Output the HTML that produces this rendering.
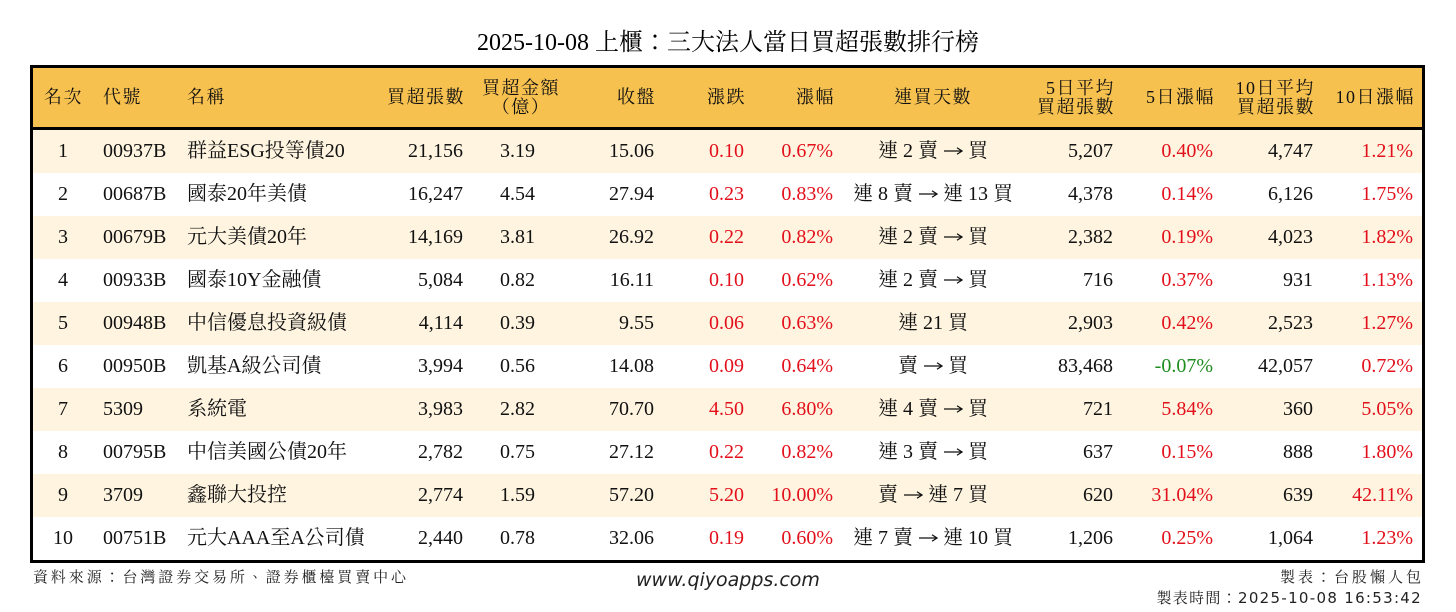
<!DOCTYPE html>
<html><head><meta charset="utf-8">
<style>
*{margin:0;padding:0;box-sizing:border-box}
body{width:1456px;height:612px;background:#fff;position:relative;overflow:hidden;font-family:"Liberation Serif","Noto Serif CJK TC","Noto Serif CJK SC",serif;color:#111}
.title{position:absolute;left:0;width:1456px;top:29px;text-align:center;font-size:24px;line-height:28px;color:#000}
.hdrbg{position:absolute;left:33px;top:68px;width:1389px;height:59px;background:#F6C14F}
.hline{position:absolute;left:33px;top:127px;width:1389px;height:3px;background:#000}
.box{position:absolute;left:30px;top:65px;width:1395px;height:498px;border:3px solid #000;z-index:5}
.row{position:absolute;left:0;width:1456px;height:43px}
.bgc{position:absolute;left:33px;top:0;width:1389px;height:43px;background:#FEF4E0}
.c{position:absolute;top:0;line-height:43px;font-size:20px;white-space:nowrap}
.ar{display:inline-block;width:20px;height:10px;margin:0;vertical-align:1px}
.h{position:absolute;font-size:18px;letter-spacing:1.5px;white-space:nowrap;color:#111}
.hs{top:68px;line-height:59px}
.hd{top:79px;line-height:19px}
.red{color:#E3101B}
.grn{color:#1E8C1E}
.rk{left:23px;width:80px;text-align:center}
.cd{left:103px}
.nm{left:187px}
.r1{right:993px}
.r2{right:921px}
.r3{right:802px}
.r4{right:712px}
.r5{right:623px}
.st{left:813px;width:240px;text-align:center}
.r6{right:343px}
.r7{right:243px}
.r8{right:143px}
.r9{right:43px}
.foot{position:absolute;font-size:15px;white-space:nowrap;font-family:"DejaVu Sans","Noto Serif CJK TC","Noto Serif CJK SC",sans-serif;color:#222}
.web{position:absolute;left:636px;top:568px;font-size:19px;line-height:24px;font-family:"DejaVu Sans",sans-serif;font-style:italic;color:#222}
</style></head><body>
<svg width="0" height="0" style="position:absolute"><defs><symbol id="arw" viewBox="0 0 20 10"><path d="M1 5H18.5M14 1.8L19 5L14 8.2" fill="none" stroke="#111" stroke-width="1.2"/></symbol></defs></svg>
<div class="title">2025-10-08 上櫃：三大法人當日買超張數排行榜</div>

<div class="hdrbg"></div>
<div class="hline"></div>

<div class="h hs" style="left:44px">名次</div>
<div class="h hs" style="left:103px">代號</div>
<div class="h hs" style="left:187px">名稱</div>
<div class="h hs" style="right:991px">買超張數</div>
<div class="h hd" style="left:461px;width:120px;text-align:center">買超金額<br>（億）</div>
<div class="h hs" style="right:800px">收盤</div>
<div class="h hs" style="right:710px">漲跌</div>
<div class="h hs" style="right:621px">漲幅</div>
<div class="h hs" style="left:813px;width:240px;text-align:center">連買天數</div>
<div class="h hd" style="right:341px;text-align:right">5日平均<br>買超張數</div>
<div class="h hs" style="right:241px">5日漲幅</div>
<div class="h hd" style="right:141px;text-align:right">10日平均<br>買超張數</div>
<div class="h hs" style="right:41px">10日漲幅</div>

<div class="row" style="top:130px"><div class="bgc"></div>
<span class="c rk">1</span><span class="c cd">00937B</span><span class="c nm">群益ESG投等債20</span><span class="c r1">21,156</span><span class="c r2">3.19</span><span class="c r3">15.06</span><span class="c r4 red">0.10</span><span class="c r5 red">0.67%</span><span class="c st">連 2 賣 <svg class="ar"><use href="#arw"/></svg> 買</span><span class="c r6">5,207</span><span class="c r7 red">0.40%</span><span class="c r8">4,747</span><span class="c r9 red">1.21%</span></div>

<div class="row" style="top:173px">
<span class="c rk">2</span><span class="c cd">00687B</span><span class="c nm">國泰20年美債</span><span class="c r1">16,247</span><span class="c r2">4.54</span><span class="c r3">27.94</span><span class="c r4 red">0.23</span><span class="c r5 red">0.83%</span><span class="c st">連 8 賣 <svg class="ar"><use href="#arw"/></svg> 連 13 買</span><span class="c r6">4,378</span><span class="c r7 red">0.14%</span><span class="c r8">6,126</span><span class="c r9 red">1.75%</span></div>

<div class="row" style="top:216px"><div class="bgc"></div>
<span class="c rk">3</span><span class="c cd">00679B</span><span class="c nm">元大美債20年</span><span class="c r1">14,169</span><span class="c r2">3.81</span><span class="c r3">26.92</span><span class="c r4 red">0.22</span><span class="c r5 red">0.82%</span><span class="c st">連 2 賣 <svg class="ar"><use href="#arw"/></svg> 買</span><span class="c r6">2,382</span><span class="c r7 red">0.19%</span><span class="c r8">4,023</span><span class="c r9 red">1.82%</span></div>

<div class="row" style="top:259px">
<span class="c rk">4</span><span class="c cd">00933B</span><span class="c nm">國泰10Y金融債</span><span class="c r1">5,084</span><span class="c r2">0.82</span><span class="c r3">16.11</span><span class="c r4 red">0.10</span><span class="c r5 red">0.62%</span><span class="c st">連 2 賣 <svg class="ar"><use href="#arw"/></svg> 買</span><span class="c r6">716</span><span class="c r7 red">0.37%</span><span class="c r8">931</span><span class="c r9 red">1.13%</span></div>

<div class="row" style="top:302px"><div class="bgc"></div>
<span class="c rk">5</span><span class="c cd">00948B</span><span class="c nm">中信優息投資級債</span><span class="c r1">4,114</span><span class="c r2">0.39</span><span class="c r3">9.55</span><span class="c r4 red">0.06</span><span class="c r5 red">0.63%</span><span class="c st">連 21 買</span><span class="c r6">2,903</span><span class="c r7 red">0.42%</span><span class="c r8">2,523</span><span class="c r9 red">1.27%</span></div>

<div class="row" style="top:345px">
<span class="c rk">6</span><span class="c cd">00950B</span><span class="c nm">凱基A級公司債</span><span class="c r1">3,994</span><span class="c r2">0.56</span><span class="c r3">14.08</span><span class="c r4 red">0.09</span><span class="c r5 red">0.64%</span><span class="c st">賣 <svg class="ar"><use href="#arw"/></svg> 買</span><span class="c r6">83,468</span><span class="c r7 grn">-0.07%</span><span class="c r8">42,057</span><span class="c r9 red">0.72%</span></div>

<div class="row" style="top:388px"><div class="bgc"></div>
<span class="c rk">7</span><span class="c cd">5309</span><span class="c nm">系統電</span><span class="c r1">3,983</span><span class="c r2">2.82</span><span class="c r3">70.70</span><span class="c r4 red">4.50</span><span class="c r5 red">6.80%</span><span class="c st">連 4 賣 <svg class="ar"><use href="#arw"/></svg> 買</span><span class="c r6">721</span><span class="c r7 red">5.84%</span><span class="c r8">360</span><span class="c r9 red">5.05%</span></div>

<div class="row" style="top:431px">
<span class="c rk">8</span><span class="c cd">00795B</span><span class="c nm">中信美國公債20年</span><span class="c r1">2,782</span><span class="c r2">0.75</span><span class="c r3">27.12</span><span class="c r4 red">0.22</span><span class="c r5 red">0.82%</span><span class="c st">連 3 賣 <svg class="ar"><use href="#arw"/></svg> 買</span><span class="c r6">637</span><span class="c r7 red">0.15%</span><span class="c r8">888</span><span class="c r9 red">1.80%</span></div>

<div class="row" style="top:474px"><div class="bgc"></div>
<span class="c rk">9</span><span class="c cd">3709</span><span class="c nm">鑫聯大投控</span><span class="c r1">2,774</span><span class="c r2">1.59</span><span class="c r3">57.20</span><span class="c r4 red">5.20</span><span class="c r5 red">10.00%</span><span class="c st">賣 <svg class="ar"><use href="#arw"/></svg> 連 7 買</span><span class="c r6">620</span><span class="c r7 red">31.04%</span><span class="c r8">639</span><span class="c r9 red">42.11%</span></div>

<div class="row" style="top:517px">
<span class="c rk">10</span><span class="c cd">00751B</span><span class="c nm">元大AAA至A公司債</span><span class="c r1">2,440</span><span class="c r2">0.78</span><span class="c r3">32.06</span><span class="c r4 red">0.19</span><span class="c r5 red">0.60%</span><span class="c st">連 7 賣 <svg class="ar"><use href="#arw"/></svg> 連 10 買</span><span class="c r6">1,206</span><span class="c r7 red">0.25%</span><span class="c r8">1,064</span><span class="c r9 red">1.23%</span></div>

<div class="box"></div>

<div class="foot" style="left:33px;top:567px;line-height:20px;letter-spacing:2.9px">資料來源：台灣證券交易所、證券櫃檯買賣中心</div>
<div class="web">www.qiyoapps.com</div>
<div class="foot" style="right:32px;top:567px;line-height:20px;letter-spacing:3px">製表：台股懶人包</div>
<div class="foot" style="right:34px;top:588px;line-height:20px;letter-spacing:1.3px">製表時間：2025-10-08 16:53:42</div>
</body></html>
